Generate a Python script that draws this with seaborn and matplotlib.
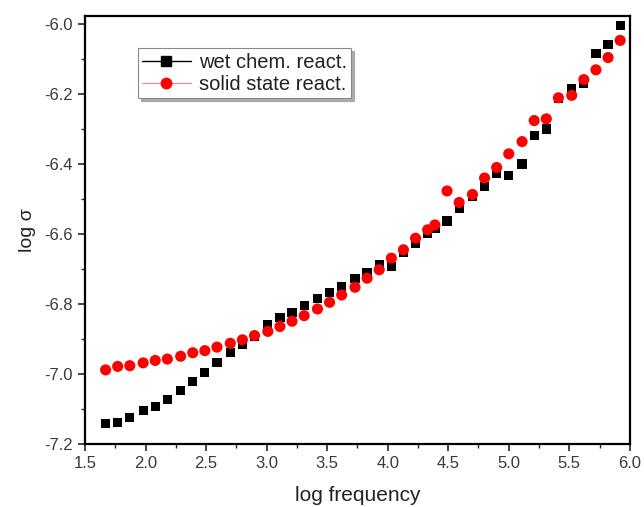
import matplotlib
matplotlib.use("Agg")
import matplotlib.pyplot as plt
from matplotlib.lines import Line2D
from matplotlib.ticker import MultipleLocator
import numpy as np
import pandas as pd
import seaborn as sns

# log frequency values of the measurement points
log_freq = [1.67, 1.77, 1.87, 1.98, 2.08, 2.18, 2.29, 2.39, 2.49, 2.59,
            2.70, 2.80, 2.90, 3.01, 3.11, 3.21, 3.31, 3.42, 3.52, 3.62,
            3.73, 3.83, 3.93, 4.03, 4.13, 4.23, 4.33, 4.39, 4.49, 4.59,
            4.70, 4.80, 4.90, 5.00, 5.11, 5.21, 5.31, 5.41, 5.52, 5.62,
            5.72, 5.82, 5.92]

# log conductivity, wet chemical reaction route
wet_chem = [-7.142, -7.139, -7.123, -7.104, -7.093, -7.073, -7.047, -7.021,
            -6.995, -6.966, -6.939, -6.914, -6.893, -6.859, -6.839, -6.823,
            -6.805, -6.785, -6.768, -6.750, -6.728, -6.709, -6.688, -6.693,
            -6.653, -6.628, -6.599, -6.585, -6.563, -6.528, -6.492, -6.464,
            -6.426, -6.433, -6.400, -6.319, -6.300, -6.214, -6.185, -6.169,
            -6.085, -6.059, -6.005]

# log conductivity, solid state reaction route
solid_state = [-6.988, -6.978, -6.976, -6.968, -6.961, -6.957, -6.949, -6.939,
               -6.933, -6.923, -6.912, -6.902, -6.890, -6.878, -6.864, -6.849,
               -6.833, -6.814, -6.795, -6.774, -6.752, -6.726, -6.702, -6.669,
               -6.645, -6.612, -6.588, -6.574, -6.477, -6.510, -6.487, -6.440,
               -6.410, -6.371, -6.336, -6.276, -6.271, -6.211, -6.204, -6.159,
               -6.131, -6.096, -6.047]

labels = ["wet chem. react.", "solid state react."]
x_ticks = [1.5, 2.0, 2.5, 3.0, 3.5, 4.0, 4.5, 5.0, 5.5, 6.0]
y_ticks = [-7.2, -7.0, -6.8, -6.6, -6.4, -6.2, -6.0]

sns.set_style("ticks")
plt.rcParams["font.family"] = ["Liberation Sans", "DejaVu Sans"]

df_wet = pd.DataFrame({"f": log_freq, "s": wet_chem})
df_solid = pd.DataFrame({"f": log_freq, "s": solid_state})

fig = plt.figure(figsize=(6.44, 5.07), dpi=100)
ax = fig.add_axes([0.132, 0.124, 0.846, 0.844])

sns.scatterplot(data=df_wet, x="f", y="s", marker="s", s=44, color="black",
                edgecolor="none", ax=ax, zorder=3, legend=False)
sns.scatterplot(data=df_solid, x="f", y="s", marker="o", s=64, color="#ff0000",
                edgecolor="none", ax=ax, zorder=4, legend=False)

ax.set_xlim(1.5, 6.0)
ax.set_ylim(-7.2, -5.978)
ax.set_xticks(x_ticks)
ax.set_yticks(y_ticks)
ax.set_xticklabels([f"{v:.1f}" for v in x_ticks])
ax.set_yticklabels([f"{v:.1f}" for v in y_ticks])
ax.xaxis.set_minor_locator(MultipleLocator(0.25))
ax.yaxis.set_minor_locator(MultipleLocator(0.1))
ax.tick_params(which="major", direction="out", length=5, width=1.2,
               labelsize=12, labelcolor="#3a3a3a", top=False, right=False)
ax.tick_params(which="minor", direction="out", length=3, width=1.0,
               top=False, right=False)
for sp in ax.spines.values():
    sp.set_visible(True)
    sp.set_linewidth(1.6)
    sp.set_color("black")

ax.set_xlabel("log frequency", fontsize=15, color="#222222", labelpad=11)
ax.set_ylabel("log σ", fontsize=14, color="#222222", labelpad=6)

handles = [
    Line2D([], [], color="black", lw=1.0, marker="s", markersize=6.5),
    Line2D([], [], color="#ff6666", lw=0.6, marker="o", markersize=7.5,
           markerfacecolor="#ff0000", markeredgecolor="#ff0000"),
]
leg = ax.legend(handles, labels, loc="upper left", bbox_to_anchor=(0.097, 0.925),
                borderaxespad=0, fontsize=14.5, frameon=True, fancybox=False,
                shadow={"color": "#999999", "alpha": 0.8}, handlelength=2.4,
                handletextpad=0.4, borderpad=0.22, labelspacing=0.15,
                edgecolor="#888888", framealpha=1)
leg.get_frame().set_linewidth(0.8)
for t in leg.get_texts():
    t.set_color("#222222")

fig.savefig("out.png", dpi=100)
